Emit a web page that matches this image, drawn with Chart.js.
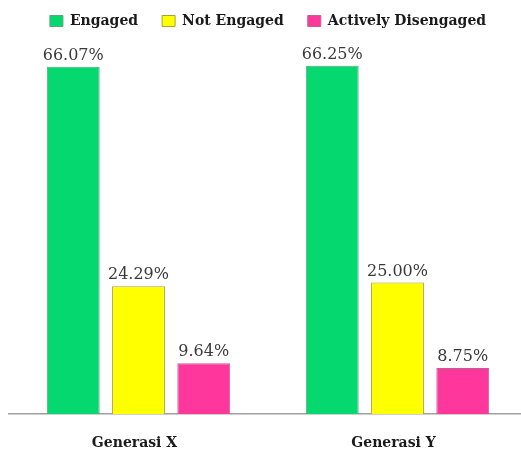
<!DOCTYPE html>
<html>
<head>
<meta charset="utf-8">
<script src="https://cdn.jsdelivr.net/npm/chart.js@4"></script>
<style>
  html, body { margin: 0; padding: 0; background: #fff; overflow: hidden; }
  #wrap { width: 530px; height: 457px; }
</style>
</head>
<body>
<div id="wrap"><canvas id="chart"></canvas></div>
<script>
const kategori = ['Generasi X', 'Generasi Y'];
const engaged = [66.07, 66.25];
const notEngaged = [24.29, 25.00];
const activelyDisengaged = [9.64, 8.75];

// etykiety nad slupkami
const etykietyPlugin = {
  id: 'etykiety',
  afterDatasetsDraw(chart) {
    const ctx = chart.ctx;
    ctx.save();
    ctx.font = '16px "DejaVu Serif"';
    ctx.fillStyle = '#3a3a3a';
    ctx.textAlign = 'center';
    ctx.textBaseline = 'bottom';
    chart.data.datasets.forEach((ds, i) => {
      chart.getDatasetMeta(i).data.forEach((bar, j) => {
        ctx.fillText(ds.data[j].toFixed(2) + '%', bar.x, bar.y - 3);
      });
    });
    ctx.restore();
  }
};

// stala wysokosc legendy
const legendaPlugin = {
  id: 'legendaWysokosc',
  beforeInit(chart) {
    const fit = chart.legend.fit;
    chart.legend.fit = function () {
      fit.bind(chart.legend)();
      this.height = 56;
    };
  }
};

new Chart(document.getElementById('chart'), {
  type: 'bar',
  data: {
    labels: kategori,
    datasets: [
      { label: 'Engaged', data: engaged, backgroundColor: '#06d870', borderColor: '#5aa57c', borderWidth: 1 },
      { label: 'Not Engaged', data: notEngaged, backgroundColor: '#ffff00', borderColor: '#a8a23a', borderWidth: 1 },
      { label: 'Actively Disengaged', data: activelyDisengaged, backgroundColor: '#fd379c', borderColor: '#c06090', borderWidth: 1 }
    ]
  },
  options: {
    responsive: true,
    maintainAspectRatio: false,
    animation: false,
    layout: { padding: { left: 9, right: 3, top: -10, bottom: 5 } },
    categoryPercentage: 0.756,
    barPercentage: 0.81,
    plugins: {
      legend: {
        position: 'top',
        labels: {
          boxWidth: 13,
          boxHeight: 11,
          padding: 24,
          color: '#1a1a1a',
          font: { family: 'DejaVu Serif', size: 14, weight: 'bold' }
        }
      },
      tooltip: { enabled: false }
    },
    scales: {
      y: {
        display: false,
        min: 0,
        max: 70
      },
      x: {
        grid: { display: false },
        border: { color: '#a0a0a0', width: 1.5 },
        afterFit: scale => { scale.height = 38; },
        ticks: {
          padding: 13,
          labelOffset: -4,
          color: '#1a1a1a',
          font: { family: 'DejaVu Serif', size: 14, weight: 'bold' }
        }
      }
    }
  },
  plugins: [etykietyPlugin, legendaPlugin]
});
</script>
</body>
</html>
